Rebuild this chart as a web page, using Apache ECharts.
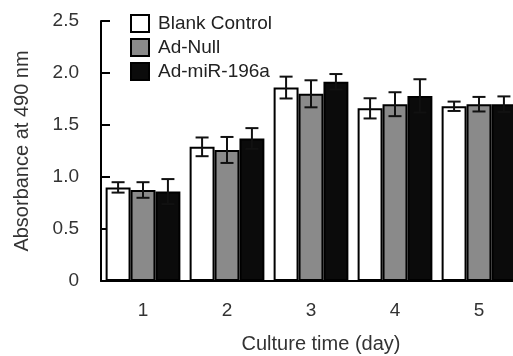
<!DOCTYPE html>
<html><head><meta charset="utf-8">
<script src="https://cdn.jsdelivr.net/npm/echarts@6/dist/echarts.min.js"></script>
<style>html,body{margin:0;padding:0;background:#fff}#c{width:513px;height:356px}</style>
</head><body><div id="c"></div>
<script>
const categories = ['1', '2', '3', '4', '5'];
const seriesNames = ['Blank Control', 'Ad-Null', 'Ad-miR-196a'];
const blankMean = [0.90, 1.29, 1.86, 1.66, 1.68];
const blankErr  = [0.05, 0.09, 0.105, 0.097, 0.045];
const nullMean  = [0.875, 1.26, 1.80, 1.70, 1.70];
const nullErr   = [0.075, 0.125, 0.13, 0.115, 0.07];
const mirMean   = [0.86, 1.37, 1.915, 1.78, 1.70];
const mirErr    = [0.12, 0.10, 0.075, 0.16, 0.075];
const yTicks = [0, 0.5, 1.0, 1.5, 2.0, 2.5];

const means = [blankMean, nullMean, mirMean];
const errs = [blankErr, nullErr, mirErr];
const colors = ['#ffffff', '#8a8a8a', '#0b0b0b'];
const catGap = 0.11;

const chart = echarts.init(document.getElementById('c'));
const font = 'Liberation Sans, Arial, sans-serif';

const barSeries = seriesNames.map((n, i) => ({
  name: n, type: 'bar', data: means[i],
  barGap: '0%', barCategoryGap: (catGap * 100) + '%',
  itemStyle: { color: colors[i], borderColor: '#000', borderWidth: 2 },
  z: 2
}));

const errSeries = seriesNames.map((n, i) => ({
  type: 'custom', name: n + ' err',
  data: means[i].map((m, j) => [j, m - errs[i][j], m + errs[i][j]]),
  z: 5, silent: true,
  renderItem: function (params, api) {
    const x = api.value(0);
    const lo = api.coord([x, api.value(1)]);
    const hi = api.coord([x, api.value(2)]);
    const cw = api.size([1, 0])[0];
    const bw = cw * (1 - catGap) / 3;
    const cx = lo[0] + (i - 1) * bw;
    const hw = 6.5;
    const st = { stroke: '#111', lineWidth: 2 };
    return { type: 'group', children: [
      { type: 'line', shape: { x1: cx, y1: lo[1], x2: cx, y2: hi[1] }, style: st },
      { type: 'line', shape: { x1: cx - hw, y1: hi[1], x2: cx + hw, y2: hi[1] }, style: st },
      { type: 'line', shape: { x1: cx - hw, y1: lo[1], x2: cx + hw, y2: lo[1] }, style: st }
    ]};
  }
}));

chart.setOption({
  animation: false,
  textStyle: { fontFamily: font },
  grid: { left: 101, width: 420, top: 21, bottom: 75, containLabel: false, outerBoundsMode: 'none' },
  legend: {
    data: seriesNames, orient: 'vertical', left: 125, top: 9,
    itemWidth: 18, itemHeight: 17, itemGap: 5,
    icon: 'rect',
    itemStyle: { borderColor: '#000', borderWidth: 2 },
    textStyle: { fontSize: 19, color: '#222', fontFamily: font, padding: [0, 0, 0, 4] }
  },
  xAxis: {
    type: 'category', data: categories,
    axisLine: { lineStyle: { color: '#000', width: 2 } },
    axisTick: { show: false },
    axisLabel: { fontSize: 19, color: '#333', margin: 20 },
    name: 'Culture time (day)', nameLocation: 'middle', nameGap: 53,
    nameTextStyle: { fontSize: 20, color: '#333', padding: [0, 0, 0, 20] }
  },
  yAxis: {
    type: 'value', min: 0, max: 2.5, interval: 0.5,
    axisLine: { show: true, lineStyle: { color: '#000', width: 2 } },
    axisTick: { show: true, inside: true, length: 9, lineStyle: { color: '#000', width: 2 } },
    splitLine: { show: false },
    axisLabel: { fontSize: 19, color: '#333', margin: 22,
      formatter: v => (v === 0 ? '0' : v.toFixed(1)) },
    name: 'Absorbance at 490 nm', nameLocation: 'middle', nameGap: 69,
    nameTextStyle: { fontSize: 20, color: '#333' }
  },
  series: barSeries.concat(errSeries)
});
</script></body></html>
